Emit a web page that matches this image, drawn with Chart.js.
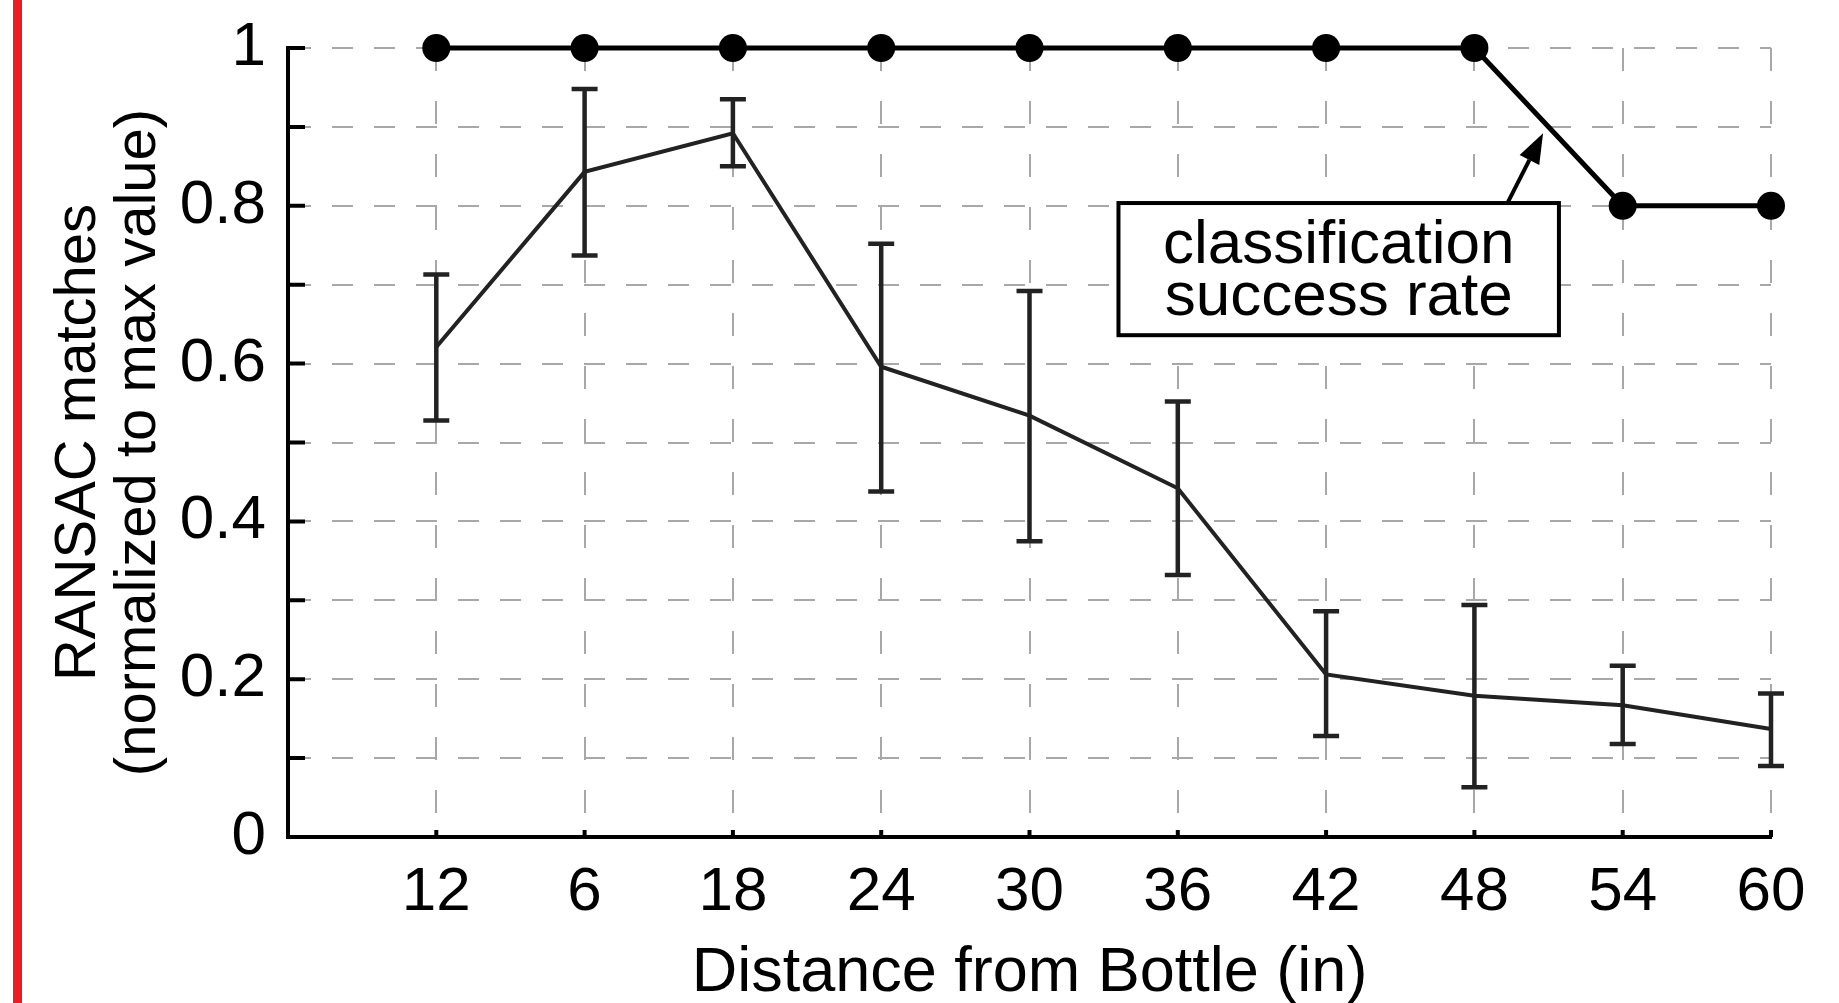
<!DOCTYPE html>
<html>
<head>
<meta charset="utf-8">
<script src="https://cdn.jsdelivr.net/npm/chart.js@4"></script>
<style>
  html, body { margin: 0; padding: 0; background: #fff; }
  #wrap { position: relative; width: 1839px; height: 1003px; }
</style>
</head>
<body>
<div id="wrap"><canvas id="chart"></canvas></div>
<script>
// x positions 1..10, labels as printed under the axis
const distances = ['12', '6', '18', '24', '30', '36', '42', '48', '54', '60'];
const classRate = [1, 1, 1, 1, 1, 1, 1, 1, 0.8, 0.8];
const ransacMean = [0.621, 0.843, 0.892, 0.596, 0.534, 0.442, 0.206, 0.179, 0.167, 0.137];
const ransacHi = [0.713, 0.948, 0.935, 0.752, 0.692, 0.552, 0.286, 0.294, 0.217, 0.182];
const ransacLo = [0.528, 0.737, 0.850, 0.438, 0.375, 0.332, 0.128, 0.063, 0.118, 0.090];
const yTickLabels = ['0', '0.2', '0.4', '0.6', '0.8', '1'];

const FONT = "'Liberation Sans', Arial, sans-serif";

const pts = arr => arr.map((v, i) => ({ x: i + 1, y: v }));

// red bar on the left, error bars, inward ticks and the callout
const extras = {
    id: 'extras',
    beforeDraw(chart) {
        const ctx = chart.ctx;
        ctx.save();
        ctx.fillStyle = '#ed1c24';
        ctx.fillRect(13, 0, 9, chart.height);
        ctx.restore();
    },
    afterDatasetsDraw(chart) {
        const { ctx, scales: { x, y } } = chart;
        ctx.save();
        ctx.strokeStyle = '#222';
        ctx.lineWidth = 4.5;
        ransacMean.forEach((m, i) => {
            const px = x.getPixelForValue(i + 1);
            const top = y.getPixelForValue(ransacHi[i]);
            const bot = y.getPixelForValue(ransacLo[i]);
            ctx.beginPath();
            ctx.moveTo(px, top); ctx.lineTo(px, bot);
            ctx.moveTo(px - 13, top); ctx.lineTo(px + 13, top);
            ctx.moveTo(px - 13, bot); ctx.lineTo(px + 13, bot);
            ctx.stroke();
        });
        ctx.restore();
    },
    afterDraw(chart) {
        const { ctx, scales: { x, y }, chartArea: a } = chart;
        ctx.save();
        ctx.strokeStyle = '#000';
        ctx.lineWidth = 4;
        ctx.beginPath();
        y.ticks.forEach(t => {
            const py = y.getPixelForValue(t.value);
            ctx.moveTo(a.left, py); ctx.lineTo(a.left + 17, py);
        });
        x.ticks.forEach(t => {
            const px = x.getPixelForValue(t.value);
            ctx.moveTo(px, a.bottom); ctx.lineTo(px, a.bottom - 7);
        });
        ctx.stroke();

        // callout box
        const bl = x.getPixelForValue(5.6), br = x.getPixelForValue(8.57);
        const bt = y.getPixelForValue(0.8035), bb = y.getPixelForValue(0.636);
        ctx.fillStyle = '#fff';
        ctx.fillRect(bl, bt, br - bl, bb - bt);
        ctx.lineWidth = 4;
        ctx.strokeRect(bl, bt, br - bl, bb - bt);
        ctx.fillStyle = '#000';
        ctx.font = '62px ' + FONT;
        ctx.textAlign = 'center';
        ctx.textBaseline = 'alphabetic';
        const cx = (bl + br) / 2;
        ctx.fillText('classification', cx, bt + 60);
        ctx.fillText('success rate', cx, bt + 112);

        // arrow
        const ax0 = x.getPixelForValue(8.227), ay0 = y.getPixelForValue(0.805);
        const ax1 = x.getPixelForValue(8.463), ay1 = y.getPixelForValue(0.892);
        const ang = Math.atan2(ay1 - ay0, ax1 - ax0);
        const hl = 30, hw = 11;
        const bx = ax1 - hl * Math.cos(ang), by = ay1 - hl * Math.sin(ang);
        ctx.lineWidth = 4;
        ctx.beginPath();
        ctx.moveTo(ax0, ay0); ctx.lineTo(bx, by);
        ctx.stroke();
        ctx.beginPath();
        ctx.moveTo(ax1, ay1);
        ctx.lineTo(bx + hw * Math.sin(ang), by - hw * Math.cos(ang));
        ctx.lineTo(bx - hw * Math.sin(ang), by + hw * Math.cos(ang));
        ctx.closePath();
        ctx.fill();
        ctx.restore();
    }
};

new Chart(document.getElementById('chart'), {
    type: 'line',
    data: {
        datasets: [
            {
                label: 'classification success rate',
                data: pts(classRate),
                borderColor: '#000',
                backgroundColor: '#000',
                borderWidth: 5,
                pointRadius: 14,
                pointBorderWidth: 0,
                pointBackgroundColor: '#000',
                tension: 0,
                clip: false
            },
            {
                label: 'RANSAC matches',
                data: pts(ransacMean),
                borderColor: '#222',
                borderWidth: 4,
                pointRadius: 0,
                tension: 0,
                clip: false
            }
        ]
    },
    options: {
        responsive: true,
        maintainAspectRatio: false,
        animation: false,
        layout: { padding: { left: 0, top: 48, right: 68, bottom: 0 } },
        plugins: { legend: { display: false }, tooltip: { enabled: false } },
        scales: {
            x: {
                type: 'linear',
                min: 0,
                max: 10,
                afterBuildTicks: s => { s.ticks = distances.map((d, i) => ({ value: i + 1 })); },
                afterFit: s => { s.height = 166; s.paddingLeft = 0; s.paddingRight = 0; },
                ticks: {
                    padding: 19,
                    color: '#000',
                    maxRotation: 0,
                    autoSkip: false,
                    font: { family: FONT, size: 62, lineHeight: 1.2 },
                    callback: v => distances[Math.round(v) - 1] || ''
                },
                grid: { drawTicks: false, color: '#a8a8a8', lineWidth: 2 },
                border: { display: true, color: '#000', width: 4, dash: [23, 30] },
                title: {
                    display: true,
                    text: 'Distance from Bottle (in)',
                    color: '#000',
                    font: { family: FONT, size: 63, lineHeight: '59px' },
                    padding: 0
                }
            },
            y: {
                min: 0,
                max: 1,
                afterBuildTicks: s => {
                    const t = [];
                    for (let i = 0; i <= 10; i++) t.push({ value: i / 10 });
                    s.ticks = t;
                },
                afterFit: s => { s.width = 288; s.paddingTop = 0; s.paddingBottom = 0; },
                ticks: {
                    padding: 22,
                    color: '#000',
                    autoSkip: false,
                    font: { family: FONT, size: 62, lineHeight: 0.8 },
                    callback: v => {
                        const k = Math.round(v * 10);
                        return k % 2 === 0 ? yTickLabels[k / 2] : '';
                    }
                },
                grid: { drawTicks: false, color: '#a8a8a8', lineWidth: 2 },
                border: { display: true, color: '#000', width: 4, dash: [21, 21] },
                title: {
                    display: true,
                    text: ['RANSAC matches', '(normalized to max value)'],
                    color: '#000',
                    font: { family: FONT, size: 58, lineHeight: '60px' },
                    padding: { top: 49, bottom: 0 }
                }
            }
        }
    },
    plugins: [extras]
});
</script>
</body>
</html>
